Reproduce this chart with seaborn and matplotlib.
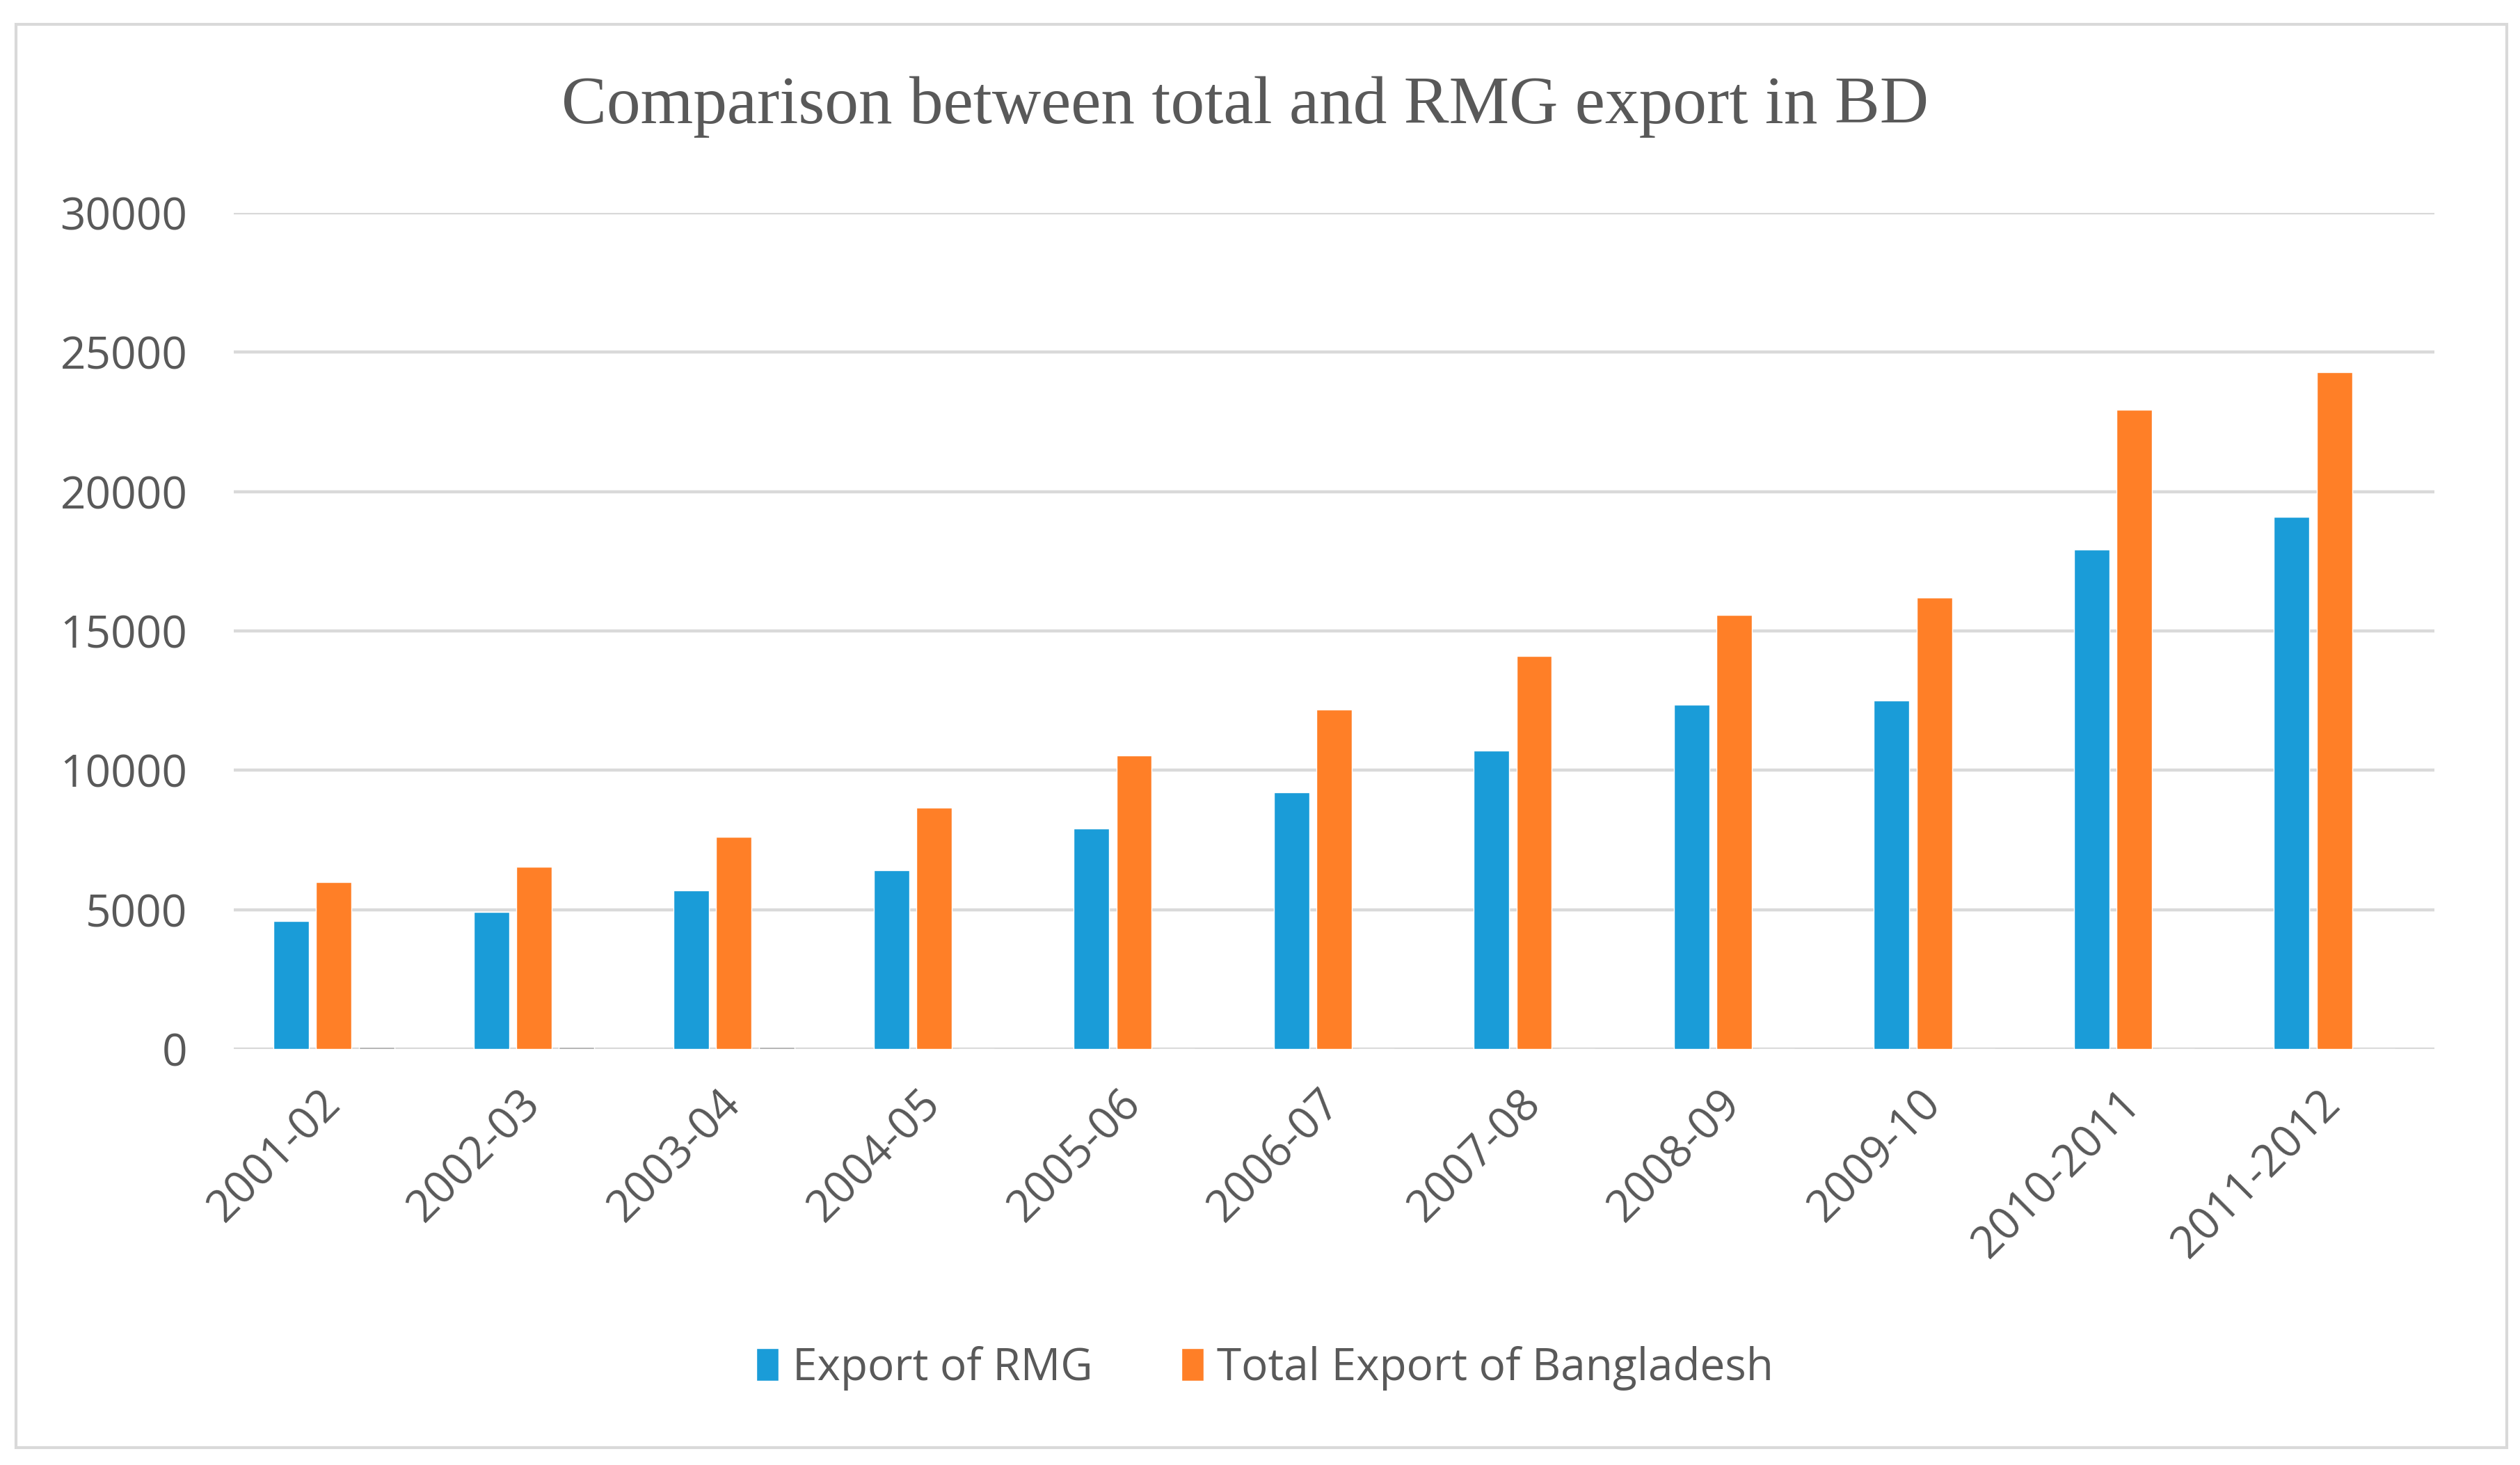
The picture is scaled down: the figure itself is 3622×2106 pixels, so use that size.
import numpy as np
import pandas as pd
import matplotlib
matplotlib.use("Agg")
import matplotlib.pyplot as plt
import seaborn as sns
from matplotlib.patches import Rectangle, Patch

years = ['2001-02', '2002-03', '2003-04', '2004-05', '2005-06', '2006-07',
         '2007-08', '2008-09', '2009-10', '2010-2011', '2011-2012']
rmg_export = [4583, 4912, 5686, 6418, 7901, 9211, 10700, 12347, 12497, 17914, 19090]
total_export = [5986, 6548, 7603, 8655, 10526, 12178, 14111, 15565, 16205, 22928, 24287]
# third series (share %), only filled for the first three years
rmg_share = [76.57, 75.01, 74.78, 0, 0, 0, 0, 0, 0, 0, 0]

series_names = ['Export of RMG', 'Total Export of Bangladesh', 'Share']
colors = ['#1A9CD8', '#FF7F27', '#A5A5A5']

rows = []
for i, y in enumerate(years):
    rows.append([y, rmg_export[i], series_names[0]])
    rows.append([y, total_export[i], series_names[1]])
    rows.append([y, rmg_share[i], series_names[2]])
df = pd.DataFrame(rows, columns=['year', 'value', 'series'])

sns.set_style("white")
plt.rcParams['font.family'] = ['Open Sans', 'DejaVu Sans']

fig = plt.figure(figsize=(36.22, 21.06), dpi=100)
ax = fig.add_axes([0.0928, 0.284, 0.8732, 0.5707])

sns.barplot(data=df, x='year', y='value', hue='series', order=years,
            hue_order=series_names, palette=colors, width=0.64, gap=0.17,
            saturation=1, legend=False, ax=ax, zorder=3)

ax.set_ylim(0, 30000)
ax.set_xlim(-0.5, len(years) - 0.5)
ax.set_yticks(np.arange(0, 30001, 5000))
ax.yaxis.grid(True, color='#D9D9D9', linewidth=3.2, zorder=0)
ax.set_axisbelow(True)
for s in ax.spines.values():
    s.set_visible(False)
ax.set_xlabel('')
ax.set_ylabel('')
ax.tick_params(axis='both', length=0)
ax.tick_params(axis='y', labelsize=46, labelcolor='#595959', pad=48)
ax.tick_params(axis='x', labelsize=46, labelcolor='#595959', pad=50)
plt.setp(ax.get_xticklabels(), rotation=45, ha='right', va='center',
         rotation_mode='anchor')

fig.text(0.494, 0.927, 'Comparison between total and RMG export in BD',
         family='Liberation Serif', fontsize=70, color='#595959',
         ha='center', va='center')

handles = [Patch(facecolor=colors[0]), Patch(facecolor=colors[1])]
fig.legend(handles, series_names[:2], loc='center', bbox_to_anchor=(0.502, 0.066),
           ncol=2, frameon=False, fontsize=46, labelcolor='#595959',
           handlelength=0.5, handleheight=0.75, handletextpad=0.3, columnspacing=2.0)

fig.patches.append(Rectangle((0.0064, 0.0119), 0.9884, 0.9715, transform=fig.transFigure,
                             fill=False, edgecolor='#D9D9D9', linewidth=3))

fig.savefig('out.png', dpi=100, facecolor='white')
